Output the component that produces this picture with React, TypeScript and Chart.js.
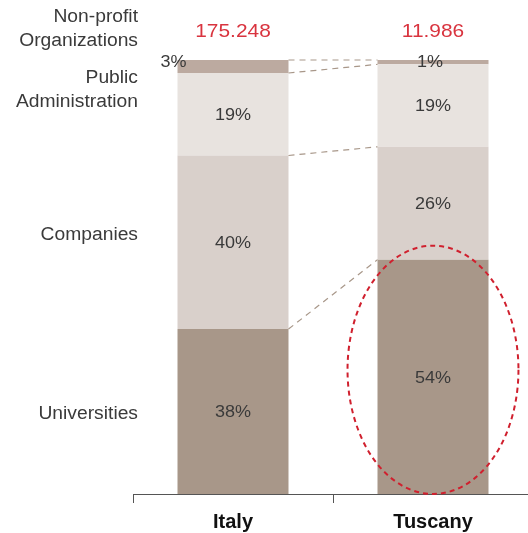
import React, { useEffect, useRef } from "react";
import { Chart, registerables } from "chart.js";

Chart.register(...registerables);

const categories = ["Italy", "Tuscany"];
const universities = [38, 54];
const companies = [40, 26];
const publicAdministration = [19, 19];
const nonProfit = [3, 1];
const totals = ["175.248", "11.986"];
const seriesNames = ["Universities", "Companies", "Public Administration", "Non-profit Organizations"];
const sideLabels = [["Universities"], ["Companies"], ["Public", "Administration"], ["Non-profit", "Organizations"]];
const seriesColors = ["#A89789", "#D9D0CB", "#E8E3DF", "#BCAAA0"];

const FONT = "'Liberation Sans', Arial, sans-serif";

function drawText(ctx: CanvasRenderingContext2D, text: string, x: number, y: number, align: CanvasTextAlign, size: number, color: string, sx = 1.12, weight = "normal") {
  ctx.save();
  ctx.translate(x, y);
  ctx.scale(sx, 1);
  ctx.font = `${weight} ${size}px ${FONT}`;
  ctx.fillStyle = color;
  ctx.textAlign = align;
  ctx.textBaseline = "middle";
  ctx.fillText(text, 0, 0);
  ctx.restore();
}

const overlayPlugin = {
  id: "overlay",
  afterDatasetsDraw(chart: any) {
    const ctx: CanvasRenderingContext2D = chart.ctx;
    const y = chart.scales.y;
    const area = chart.chartArea;
    const metas = chart.data.datasets.map((_: any, i: number) => chart.getDatasetMeta(i));

    // dashed connectors between bars
    ctx.save();
    ctx.strokeStyle = "#A89789";
    ctx.lineWidth = 1.2;
    ctx.setLineDash([6, 5]);
    for (let i = 1; i < metas.length; i++) {
      const a = metas[i].data[0];
      const b = metas[i].data[1];
      ctx.beginPath();
      ctx.moveTo(a.x + a.width / 2, a.base);
      ctx.lineTo(b.x - b.width / 2, b.base);
      ctx.stroke();
    }
    const ta = metas[metas.length - 1].data[0];
    const tb = metas[metas.length - 1].data[1];
    ctx.beginPath();
    ctx.moveTo(ta.x + ta.width / 2, ta.y);
    ctx.lineTo(tb.x - tb.width / 2, tb.y);
    ctx.stroke();
    ctx.restore();

    // percentage labels
    chart.data.datasets.forEach((ds: any, i: number) => {
      metas[i].data.forEach((bar: any, j: number) => {
        const v = ds.data[j];
        let px = bar.x;
        let py = (bar.y + bar.base) / 2 + 1;
        if (v < 5) {
          py = bar.y + 2;
          px = j === 0 ? bar.x - bar.width / 2 - 4 : bar.x - 3;
        }
        drawText(ctx, `${v}%`, px, py, "center", 17, "#3a3a3a", 1.06);
      });
    });

    // side labels
    const sideY = [18.4, 59.7, 93.1, 107.1];
    sideLabels.forEach((lines, i) => {
      const cy = y.getPixelForValue(sideY[i]);
      const n = lines.length;
      lines.forEach((t, k) => {
        drawText(ctx, t, 138, cy + (k - (n - 1) / 2) * 24, "right", 18, "#3a3a3a", 1.07);
      });
    });

    // totals
    const topMeta = metas[metas.length - 1];
    totals.forEach((t, j) => {
      const bar = topMeta.data[j];
      drawText(ctx, t, bar.x, area.top - 28, "center", 19, "#D9343F", 1.1);
    });

    // highlight ellipse
    const u = metas[0].data[1];
    const top = u.y - 14;
    const cy = (top + u.base) / 2;
    ctx.save();
    ctx.strokeStyle = "#D0202E";
    ctx.lineWidth = 2;
    ctx.setLineDash([5, 4]);
    ctx.beginPath();
    ctx.ellipse(u.x, cy, u.width * 0.77, (u.base - top) / 2, 0, 0, Math.PI * 2);
    ctx.stroke();
    ctx.restore();
  },
};

export default function App() {
  const ref = useRef<HTMLCanvasElement>(null);
  useEffect(() => {
    if (!ref.current) return;
    const values = [universities, companies, publicAdministration, nonProfit];
    const chart = new Chart(ref.current, {
      type: "bar",
      data: {
        labels: categories,
        datasets: values.map((d, i) => ({
          label: seriesNames[i],
          data: d,
          backgroundColor: seriesColors[i],
          borderWidth: 0,
          barPercentage: 0.555,
          categoryPercentage: 1,
        })),
      },
      options: {
        responsive: false,
        animation: false,
        devicePixelRatio: 1,
        layout: { padding: { left: 133, right: 7, top: 60, bottom: -8 } },
        plugins: { legend: { display: false }, tooltip: { enabled: false } },
        scales: {
          x: {
            stacked: true,
            grid: { display: true, offset: true, drawOnChartArea: false, drawTicks: true, tickLength: 9, color: "#555555" },
            border: { display: true, color: "#555555", width: 1 },
            ticks: { color: "#111111", padding: 7, font: { family: FONT, size: 20, weight: "bold" } },
          },
          y: {
            stacked: true,
            display: false,
            min: 0,
            max: 100,
          },
        },
      },
      plugins: [overlayPlugin],
    });
    return () => chart.destroy();
  }, []);
  return (
    <div style={{ position: "fixed", left: 0, top: 0, width: 528, height: 533, overflow: "hidden", background: "#fff" }}>
      <canvas ref={ref} width={540} height={533} style={{ width: 540, height: 533, display: "block" }} />
    </div>
  );
}
